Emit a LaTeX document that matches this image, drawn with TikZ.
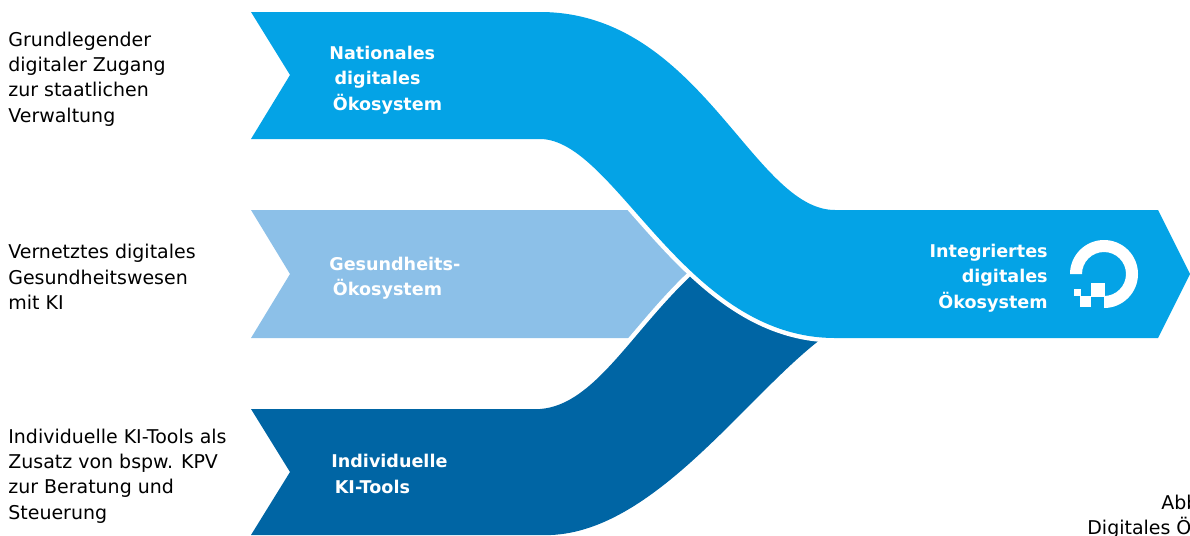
\documentclass[tikz,border=0pt]{standalone}
\usepackage{fontspec}
\setmainfont{DejaVu Sans}
\definecolor{natblue}{HTML}{04A3E6}
\definecolor{healthblue}{HTML}{8CC0E8}
\definecolor{toolblue}{HTML}{0065A4}
\tikzset{
    sidetext/.style={anchor=west,align=left,inner sep=0pt,font=\fontsize{10.8}{14.46}\selectfont},
    flowtext/.style={anchor=west,align=left,inner sep=0pt,text=white,font=\fontsize{10}{14.46}\selectfont\bfseries},
    gapline/.style={draw=white,line width=9*0.567pt}
}
\begin{document}
\begin{tikzpicture}[x=0.02cm,y=-0.02cm]
    \clip (0,0) rectangle (1190,535);
    \fill[healthblue] (251,210) -- (700,210) -- (700,338) -- (251,338) -- (290,274) -- cycle;
    \draw[gapline] (540,409) .. controls (595,405) and (632,330) .. (695,272);
    \fill[toolblue] (251,409) -- (540,409) .. controls (595,405) and (632,330) .. (695,272)
        -- (825,336) .. controls (745,395) and (650,540) .. (540,535) -- (251,535) -- (290,472) -- cycle;
    \draw[gapline] (540,139) .. controls (615,139) and (684,338) .. (835,338);
    \fill[natblue] (251,12) -- (540,12) .. controls (700,12) and (753,210) .. (835,210)
        -- (1158,210) -- (1190,274) -- (1158,338) -- (835,338)
        .. controls (684,338) and (615,139) .. (540,139) -- (251,139) -- (290,75) -- cycle;
    \fill[white] (1070,274) arc[start angle=180,end angle=450,radius=34]
        -- (1104,296) arc[start angle=90,end angle=-180,radius=22] -- cycle;
    \fill[white] (1091,283) rectangle (1105,297);
    \fill[white] (1080,296) rectangle (1091,307);
    \fill[white] (1074,289) rectangle (1081,296);
    \node[sidetext] (access) at (8,79) {Grundlegender\\digitaler Zugang\\zur staatlichen\\Verwaltung};
    \node[sidetext] (health) at (8,277) {Vernetztes digitales\\Gesundheitswesen\\mit KI};
    \node[sidetext] (tools) at (8,476) {Individuelle KI-Tools als\\Zusatz von bspw. KPV\\zur Beratung und\\Steuerung};
    \node[flowtext] (national) at (329,80) {Nationales\\\hspace*{3pt}digitales\\\hspace*{2pt}Ökosystem};
    \node[flowtext] (healthflow) at (329,278) {Gesundheits-\\\hspace*{2pt}Ökosystem};
    \node[flowtext] (toolflow) at (331,474) {Individuelle\\\hspace*{2pt}KI-Tools};
    \node[flowtext,anchor=east,align=right] (integrated) at (1048,278) {Integriertes\\digitales\\Ökosystem};
    \node[sidetext] (abb) at (1161,502) {Abb};
    \node[sidetext] (caption) at (1087,528) {Digitales Ö};
\end{tikzpicture}
\end{document}
